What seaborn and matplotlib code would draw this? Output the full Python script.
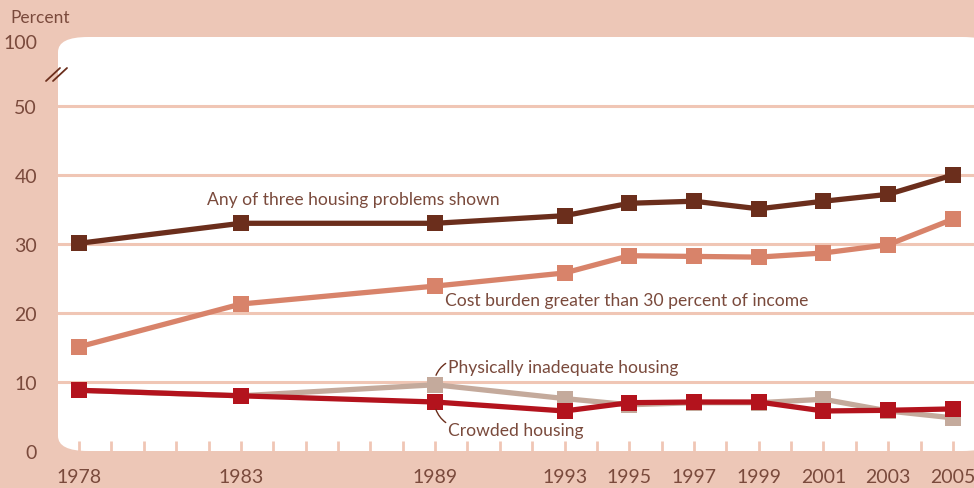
import matplotlib
matplotlib.use("Agg")
import matplotlib.pyplot as plt
import seaborn as sns
import pandas as pd
from matplotlib.patches import FancyBboxPatch
from matplotlib.lines import Line2D
from matplotlib.transforms import IdentityTransform

sns.set_theme(style="white")
plt.rcParams["font.family"] = ["Lato", "DejaVu Sans"]

years = [1978, 1983, 1989, 1993, 1995, 1997, 1999, 2001, 2003, 2005]
any_three = [30.1, 33.0, 33.0, 34.1, 35.9, 36.2, 35.1, 36.2, 37.2, 40.0]
cost_burden = [15.1, 21.3, 23.9, 25.8, 28.3, 28.2, 28.1, 28.7, 29.9, 33.6]
inadequate = [8.8, 8.0, 9.6, 7.6, 6.7, 7.0, 7.0, 7.5, 5.8, 4.8]
crowded = [8.8, 8.0, 7.1, 5.8, 7.0, 7.1, 7.1, 5.8, 5.9, 6.1]

series_names = ["Any of three housing problems shown",
                "Cost burden greater than 30 percent of income",
                "Physically inadequate housing",
                "Crowded housing"]
colors = ["#6B2E1C", "#D8836A", "#C4AA9C", "#B3131D"]

y_ticks = [0, 10, 20, 30, 40, 50, 59.4]
y_labels = ["0", "10", "20", "30", "40", "50", "100"]
grid_levels = [10, 20, 30, 40, 50]
x_labels = [1978, 1983, 1989, 1993, 1995, 1997, 1999, 2001, 2003, 2005]

bg = "#EDC7B7"
grid_col = "#F0C6B5"
text_col = "#7A4A3C"

df = pd.DataFrame({
    "year": years * 4,
    "value": any_three + cost_burden + inadequate + crowded,
    "series": [s for s in series_names for _ in years],
})

fig = plt.figure(figsize=(9.74, 4.89), dpi=100, facecolor=bg)
ax = fig.add_axes([58 / 974, 37 / 489, 916 / 974, 414 / 489])
ax.patch.set_visible(False)

# white rounded panel behind the plot
panel = FancyBboxPatch((58, 37), 935, 414, boxstyle="round,pad=0,rounding_size=30",
                       mutation_aspect=0.5, transform=IdentityTransform(),
                       facecolor="white", edgecolor="none", zorder=-1)
fig.add_artist(panel)

for lv in grid_levels:
    ax.axhline(lv, color=grid_col, lw=2.2, zorder=1)

for name, col in zip(series_names, colors):
    sub = df[df["series"] == name]
    sns.lineplot(data=sub, x="year", y="value", color=col, marker="s",
                 markersize=12, markeredgewidth=0, linewidth=3.8, ax=ax,
                 zorder=3, legend=False)

ax.set_xlim(1977.35, 2005.65)
ax.set_ylim(0, 60)
ax.set_xlabel("")
ax.set_ylabel("")
for s in ax.spines.values():
    s.set_visible(False)

ax.set_yticks(y_ticks)
ax.set_yticklabels(y_labels)
ax.tick_params(axis="y", length=0, pad=15, labelsize=14, labelcolor=text_col)

all_years = list(range(1978, 2006))
ax.set_xticks(all_years)
ax.set_xticklabels([str(y) if y in x_labels else "" for y in all_years])
ax.tick_params(axis="x", direction="in", length=7, width=2, color=grid_col,
               pad=12, labelsize=14, labelcolor=text_col, bottom=True)

kw = dict(color=text_col, fontsize=12.6)
ax.text(1981.95, 36.5, series_names[0], ha="left", va="center", **kw)
ax.text(1989.3, 21.9, series_names[1], ha="left", va="center", **kw)
ax.text(1989.4, 12.2, series_names[2], ha="left", va="center", **kw)
ax.text(1989.4, 3.0, series_names[3], ha="left", va="center", **kw)
ax.annotate("", xy=(1989.4, 12.9), xytext=(1989.0, 10.6),
            arrowprops=dict(arrowstyle="-", color="#6B2E1C", lw=1,
                            connectionstyle="arc3,rad=-0.2"))
ax.annotate("", xy=(1989.4, 3.9), xytext=(1989.0, 6.4),
            arrowprops=dict(arrowstyle="-", color="#6B2E1C", lw=1,
                            connectionstyle="arc3,rad=0.2"))

fig.text(10 / 974, 1 - 18 / 489, "Percent", ha="left", va="center",
         color=text_col, fontsize=12.5)

# axis break mark
for dx in (0, 7):
    fig.add_artist(Line2D([(46 + dx) / 974, (60 + dx) / 974],
                          [1 - 82 / 489, 1 - 69 / 489],
                          color="#6B2E1C", lw=1.3))

fig.savefig("out.png", dpi=100, facecolor=bg)
